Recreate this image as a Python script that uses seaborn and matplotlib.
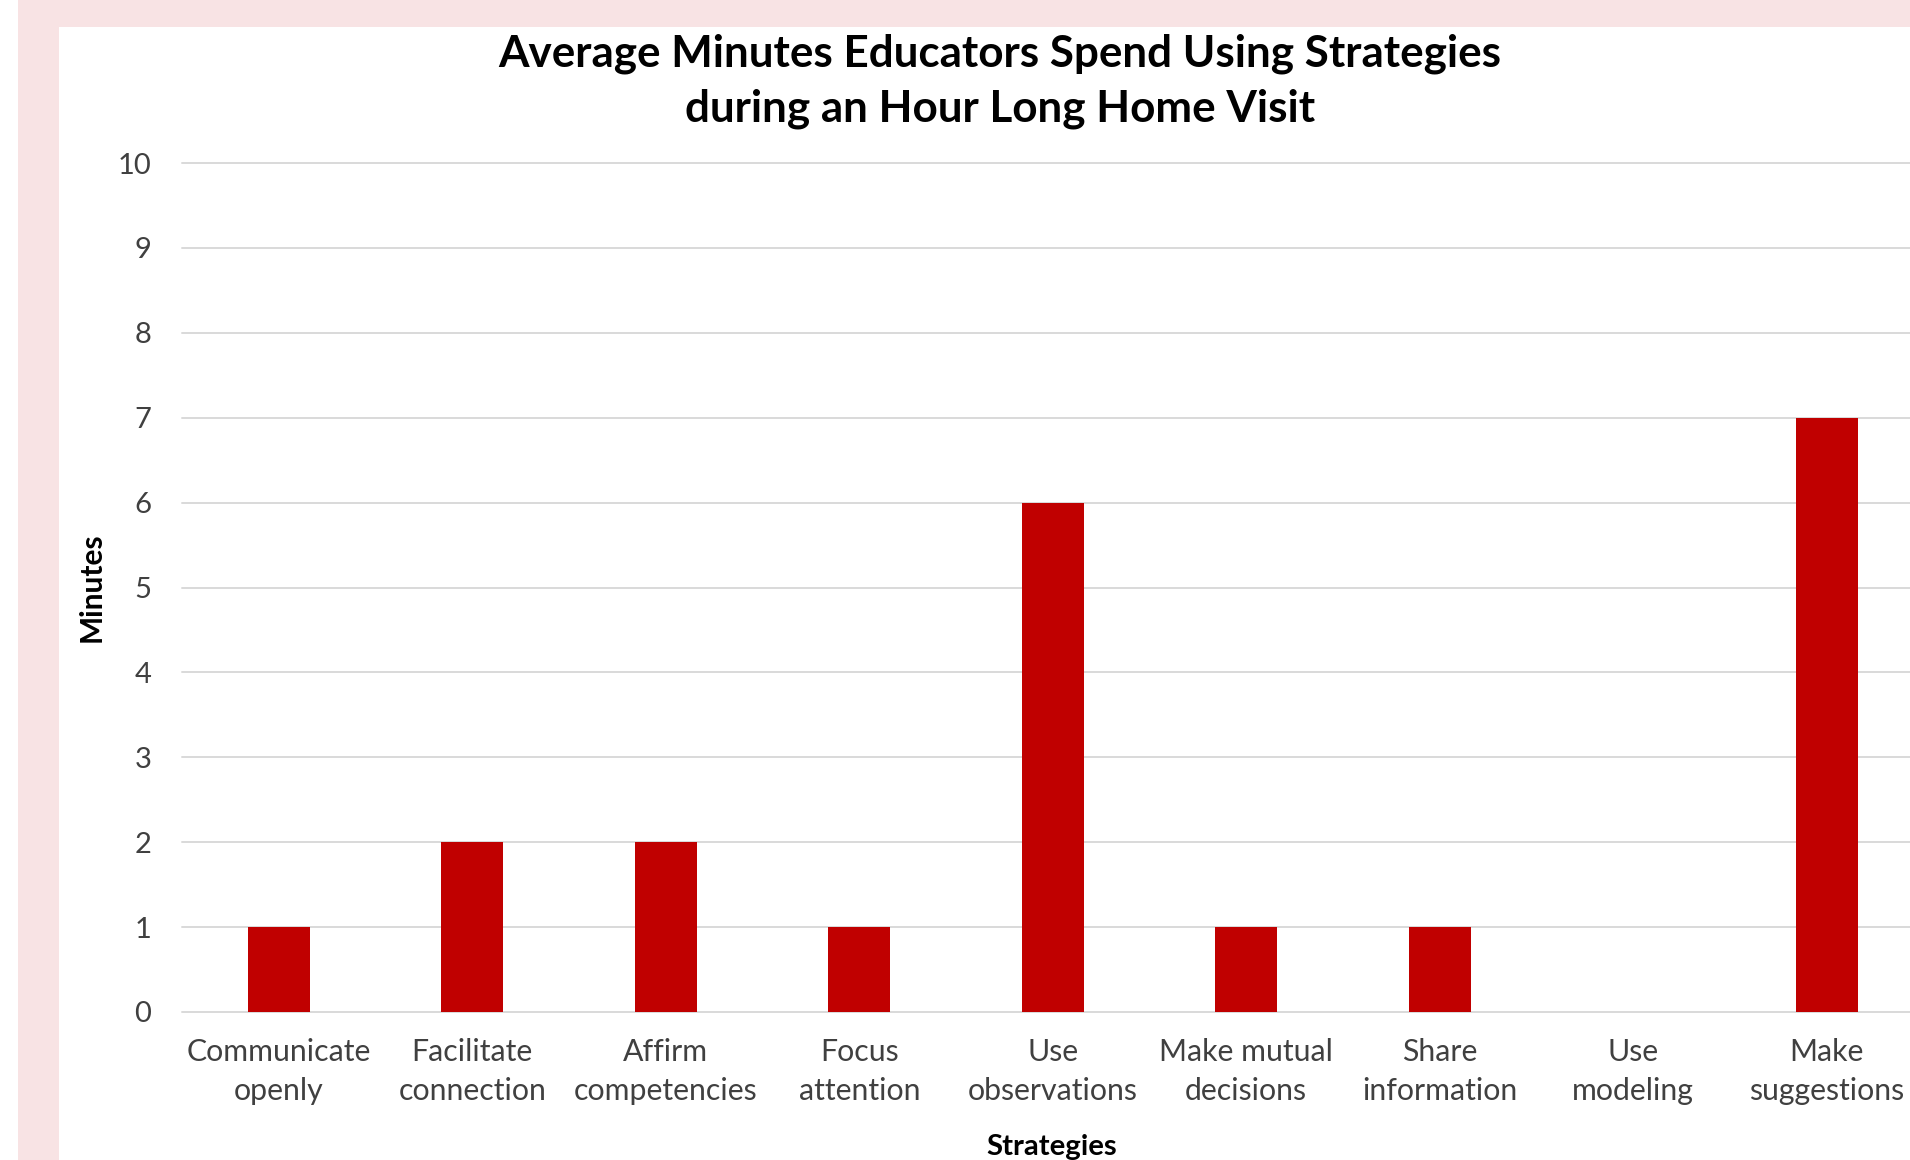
import matplotlib
matplotlib.use("Agg")
import matplotlib.pyplot as plt
import seaborn as sns
import pandas as pd
from matplotlib.patches import Rectangle

# ---- data ----
strategies = [
    "Communicate\nopenly", "Facilitate\nconnection", "Affirm\ncompetencies",
    "Focus\nattention", "Use\nobservations", "Make mutual\ndecisions",
    "Share\ninformation", "Use\nmodeling", "Make\nsuggestions",
]
minutes = [1, 2, 2, 1, 6, 1, 1, 0, 7]
y_ticks = [0, 1, 2, 3, 4, 5, 6, 7, 8, 9, 10]

title_text = "Average Minutes Educators Spend Using Strategies\nduring an Hour Long Home Visit"
y_label = "Minutes"
x_label = "Strategies"

sns.set_theme(style="white")
plt.rcParams['font.family'] = ['Lato', 'DejaVu Sans']

W, H = 1910, 1160
fig = plt.figure(figsize=(W / 100, H / 100), dpi=100, facecolor="white")

pink = "#F8E3E4"
fig.patches.append(Rectangle((18 / W, 0), 1, 1, transform=fig.transFigure,
                             facecolor=pink, edgecolor="none", zorder=-10))
fig.patches.append(Rectangle((59 / W, 0), 1, (H - 27) / H, transform=fig.transFigure,
                             facecolor="white", edgecolor="none", zorder=-9))

ax_left, ax_right = 182, 182 + 9 * 193.5
ax_top, ax_bot = 163, 1012
ax = fig.add_axes([ax_left / W, 1 - ax_bot / H, (ax_right - ax_left) / W, (ax_bot - ax_top) / H])
ax.set_facecolor("none")

df = pd.DataFrame({"Strategy": strategies, "Minutes": minutes})
sns.barplot(data=df, x="Strategy", y="Minutes", color="#C00000", saturation=1,
            width=0.32, ax=ax, edgecolor="none", linewidth=0)

ax.set_xlim(-0.5, len(strategies) - 0.5)
ax.set_ylim(0, 10)
ax.set_yticks(y_ticks)
ax.set_yticklabels([str(t) for t in y_ticks])
ax.set_axisbelow(True)
ax.yaxis.grid(True, color="#D9D9D9", linewidth=1.4)
ax.xaxis.grid(False)
for gl in ax.get_ygridlines():
    gl.set_clip_on(False)
for s in ax.spines.values():
    s.set_visible(False)
ax.tick_params(axis="both", length=0, colors="#404040")
ax.tick_params(axis="y", labelsize=21, pad=22)
ax.tick_params(axis="x", labelsize=21.8, pad=19)
for lbl in ax.get_xticklabels():
    lbl.set_linespacing(1.45)
ax.set_xlabel("")
ax.set_ylabel("")

fig.text(1000 / W, 1 - 33 / H, title_text, ha="center", va="top",
         fontsize=31.7, fontweight="bold", color="black", linespacing=1.45)
fig.text(92 / W, 1 - 587 / H, y_label, ha="center", va="center", rotation=90,
         fontsize=21.5, fontweight="bold", color="black")
fig.text(1052 / W, 1 - 1134 / H, x_label, ha="center", va="top",
         fontsize=21.2, fontweight="bold", color="black")

fig.savefig("out.png", dpi=100, facecolor=fig.get_facecolor())
